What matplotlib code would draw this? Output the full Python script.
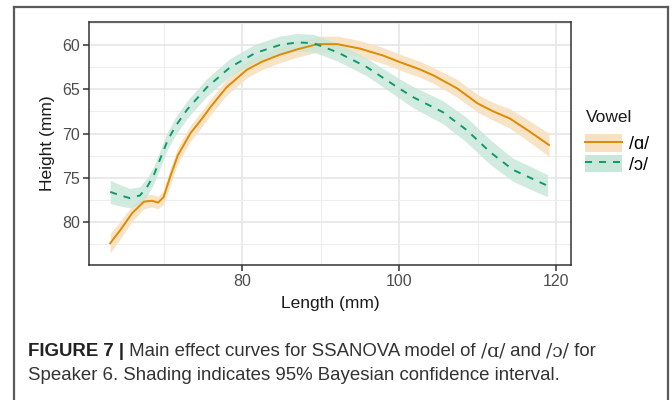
import matplotlib
matplotlib.use("Agg")
import matplotlib.pyplot as plt
from matplotlib.lines import Line2D
from matplotlib.patches import Patch
import numpy as np

plt.rcParams['font.family'] = ['Liberation Sans', 'DejaVu Sans']

# /ɑ/ curve: length (mm), height (mm), half width of the 95% interval
a_x = [63.2, 64.5, 66.0, 67.5, 68.5, 69.3, 70.0, 70.8, 71.8, 73.4, 75.0, 75.9,
       78.0, 80.6, 82.5, 84.8, 87.0, 89.6, 92.1, 95.0, 98.0, 100.0, 102.5,
       104.3, 107.4, 110.0, 112.0, 114.1, 116.5, 119.1]
a_y = [82.4, 80.9, 79.0, 77.7, 77.6, 77.8, 77.2, 75.0, 72.5, 70.0, 68.2, 67.1,
       64.8, 62.8, 61.9, 61.1, 60.5, 59.9, 59.9, 60.4, 61.2, 61.9, 62.7,
       63.4, 64.9, 66.6, 67.5, 68.3, 69.7, 71.3]
a_se = [1.1, 1.0, 0.9, 0.8, 0.7, 0.7, 0.8, 0.9, 0.9, 0.9, 0.9, 0.9,
        0.9, 0.9, 0.9, 0.9, 0.9, 0.9, 0.9, 0.9, 0.9, 0.9, 0.9,
        0.9, 1.0, 1.0, 1.0, 1.1, 1.2, 1.3]

# /ɔ/ curve
o_x = [63.2, 64.5, 65.7, 67.0, 68.0, 68.8, 69.6, 70.5, 71.5, 73.0, 75.5, 78.5,
       81.7, 84.8, 87.0, 89.1, 92.1, 95.9, 100.0, 101.8, 105.6, 108.6, 111.6,
       114.5, 116.7, 118.9]
o_y = [76.6, 77.0, 77.3, 77.0, 75.9, 74.6, 72.8, 70.8, 69.2, 67.3, 64.8, 62.5,
       60.9, 60.0, 59.7, 59.8, 60.8, 62.5, 64.9, 65.9, 67.6, 69.6, 72.1,
       74.1, 75.0, 75.9]
o_se = [1.3, 1.2, 1.1, 1.0, 1.0, 1.0, 1.0, 1.0, 1.0, 1.0, 1.0, 1.0,
        1.0, 1.0, 1.0, 1.0, 1.0, 1.0, 1.1, 1.2, 1.3, 1.4, 1.4,
        1.3, 1.3, 1.25]

x_ticks = [80, 100, 120]
y_ticks = [60, 65, 70, 75, 80]
vowels = ["/ɑ/", "/ɔ/"]

orange = "#E08A00"
green = "#109A6C"
orange_fill = "#F7E1C0"
green_fill = "#C6E7D9"

W, H = 672, 400
fig = plt.figure(figsize=(W / 100, H / 100), dpi=100)

# rahmen um die ganze abbildung
rand = "#5A5A5A"
fig.add_artist(Line2D([14 / W, 14 / W], [0, 1 - 6.5 / H], color=rand, lw=1.6))
fig.add_artist(Line2D([14 / W, 668 / W], [1 - 6.5 / H, 1 - 6.5 / H], color=rand, lw=1.6))
fig.add_artist(Line2D([668 / W, 668 / W], [0, 1 - 6.5 / H], color=rand, lw=1.6))

left, right, top, bottom = 89, 571, 22, 265
ax = fig.add_axes([left / W, 1 - bottom / H, (right - left) / W, (bottom - top) / H])

axx = np.array(a_x)
ay = np.array(a_y)
ase = np.array(a_se)
oxx = np.array(o_x)
oy = np.array(o_y)
ose = np.array(o_se)

ax.fill_between(axx, ay - ase, ay + ase, color=orange_fill, lw=0, alpha=0.9, zorder=2)
ax.fill_between(oxx, oy - ose, oy + ose, color=green_fill, lw=0, alpha=0.8, zorder=2)
ax.plot(axx, ay, color=orange, lw=1.4, zorder=3)
ax.plot(oxx, oy, color=green, lw=1.4, ls=(0, (3.6, 3.6)), zorder=3)

ax.set_xlim(60.5, 121.9)
ax.set_ylim(84.86, 57.4)
ax.set_xticks(x_ticks)
ax.set_yticks(y_ticks)
ax.set_xticks([70, 90, 110], minor=True)
ax.set_yticks([57.5, 62.5, 67.5, 72.5, 77.5, 82.5], minor=True)
ax.grid(True, which='major', color='#E8E8E8', lw=1.3, zorder=0)
ax.grid(True, which='minor', color='#EDEDED', lw=0.8, zorder=0)
ax.set_axisbelow(True)
ax.tick_params(which='major', length=4.5, width=1.1, color='#333333',
               labelsize=11.5, labelcolor='#4D4D4D', pad=2)
ax.tick_params(which='minor', length=0)
for s in ax.spines.values():
    s.set_color('#333333')
    s.set_linewidth(1.1)

ax.set_xlabel("Length (mm)", fontsize=12.5, color='#1A1A1A', labelpad=5)
ax.set_ylabel("Height (mm)", fontsize=12.5, color='#1A1A1A', labelpad=5)

# legende: titel extra, damit abstand stimmt
fig.text(586 / W, 1 - 117 / H, "Vowel", fontsize=12.5, color='#1A1A1A', va='center')
handles = [(Patch(facecolor=orange_fill, edgecolor='none'), Line2D([], [], color=orange, lw=1.4)),
           (Patch(facecolor=green_fill, edgecolor='none'), Line2D([], [], color=green, lw=1.4, ls=(0, (3.6, 3.6))))]
leg = fig.legend(handles, vowels, loc='upper left',
                 bbox_to_anchor=(585 / W, 1 - 134 / H), frameon=False,
                 fontsize=13, handlelength=2.05, handleheight=1.15,
                 labelspacing=0.08, handletextpad=0.4, borderaxespad=0, borderpad=0)

# bildunterschrift, stueck fuer stueck
fig.canvas.draw()
r = fig.canvas.get_renderer()
y1 = 1 - 352 / H
teile = [("FIGURE 7 |", dict(fontweight='bold', color='#222222', family=['Liberation Sans'])),
         (" Main effect curves for SSANOVA model of ", dict(color='#333333')),
         ("/ɑ/", dict(color='#333333', family=['DejaVu Serif'])),
         (" and ", dict(color='#333333')),
         ("/ɔ/", dict(color='#333333', family=['DejaVu Serif'])),
         (" for", dict(color='#333333'))]
xpos = 28 / W
for txt, kw in teile:
    t = fig.text(xpos, y1, txt, fontsize=13.4, va='center', **kw)
    bb = t.get_window_extent(r)
    xpos = bb.x1 / W
fig.text(28 / W, 1 - 375 / H,
         "Speaker 6. Shading indicates 95% Bayesian confidence interval.",
         fontsize=13.4, color='#333333', va='center')

fig.savefig("out.png", dpi=100)
